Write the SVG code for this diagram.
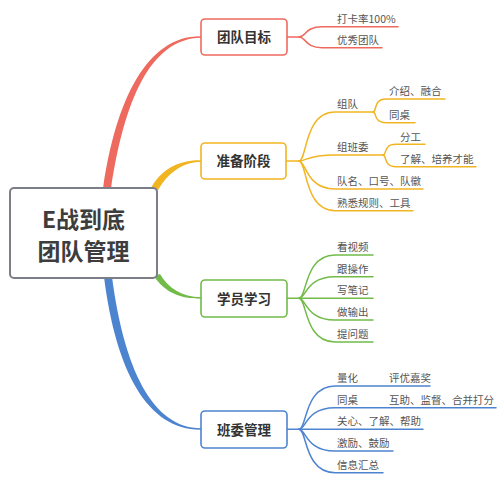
<svg xmlns="http://www.w3.org/2000/svg" width="500" height="486" viewBox="0 0 500 486">
<style>
.t{font-family:"Noto Sans CJK SC","Noto Sans",sans-serif;}
.leaf{font-size:10.5px;fill:#555;}
.node{font-size:13.5px;font-weight:bold;fill:#333;text-anchor:middle;}
.root{font-size:23px;font-weight:bold;fill:#3d3d3d;text-anchor:middle;}
.ln{fill:none;stroke-width:1.5;stroke-linecap:round;}
.r{stroke:#ee6a5e;} .y{stroke:#f2b522;} .g{stroke:#72bb49;} .b{stroke:#4d84d0;}
.box{fill:#fff;stroke-width:1.6;}
</style>
<rect width="500" height="486" fill="#fff"/>
<g id="connectors">
<!-- main tapered branches -->
<path d="M103,189 C116,98 148,35.4 201,36.2 L201,37.8 C150,38.6 124,102 111,189 Z" fill="#ee6a5e"/>
<path d="M150,190 C160,170 178,159.8 201,160.3 L201,161.7 C181,162 166,175 157,192 Z" fill="#f2b522"/>
<path d="M154,276 C164,292 180,298.7 201,298.7 L201,297.3 C182,297 168,288 160,274 Z" fill="#72bb49"/>
<path d="M104,277 C116,372 148,430.2 201,429.7 L201,428.3 C152,428 124,368 112,277 Z" fill="#4d84d0"/>
<!-- red -->
<path class="ln r" d="M287,37 L299,37 C306,37 305,26.7 322,26.7 L398,26.7"/>
<path class="ln r" d="M299,37 C306,37 305,47.7 322,47.7 L382,47.7"/>
<!-- yellow -->
<path class="ln y" d="M286,161 L299,161"/>
<path class="ln y" d="M299,161 C307,161 304,112 335,112 L373,112"/>
<path class="ln y" d="M299,161 C306,161 308,155 335,155 L383,155"/>
<path class="ln y" d="M299,161 C306,161 306,189 335,189 L423,189"/>
<path class="ln y" d="M299,161 C307,161 304,210.7 335,210.7 L413,210.7"/>
<path class="ln y" d="M373,112 C377,112 373,99 386,99 L445,99"/>
<path class="ln y" d="M373,112 C377,112 373,122.7 386,122.7 L415,122.7"/>
<path class="ln y" d="M383,155 C387,155 383,144.3 396,144.3 L425,144.3"/>
<path class="ln y" d="M383,155 C387,155 383,166.7 396,166.7 L476,166.7"/>
<!-- green -->
<path class="ln g" d="M287,298.3 L373,298.3"/>
<path class="ln g" d="M299,298.3 C307,298.3 304,255 335,255 L373,255"/>
<path class="ln g" d="M299,298.3 C306,298.3 306,276.7 335,276.7 L373,276.7"/>
<path class="ln g" d="M299,298.3 C306,298.3 306,320 335,320 L373,320"/>
<path class="ln g" d="M299,298.3 C307,298.3 304,342 335,342 L373,342"/>
<!-- blue -->
<path class="ln b" d="M287,429.3 L423,429.3"/>
<path class="ln b" d="M299,429.3 C307,429.3 304,386 335,386 L430,386"/>
<path class="ln b" d="M299,429.3 C306,429.3 306,407.7 335,407.7 L496,407.7"/>
<path class="ln b" d="M299,429.3 C306,429.3 306,451 335,451 L393,451"/>
<path class="ln b" d="M299,429.3 C307,429.3 304,472.7 335,472.7 L383,472.7"/>
</g>
<g id="root">
<rect x="10" y="188" width="147" height="90" rx="4" fill="#fff" stroke="#7b7e86" stroke-width="2"/>
<text class="t root" x="83.5" y="228">E战到底</text>
<text class="t root" x="83.5" y="260">团队管理</text>
</g>
<g id="n1">
<rect class="box" x="201" y="19" width="86" height="36" rx="4" stroke="#ee6a5e"/>
<text class="t node" x="244" y="42">团队目标</text>
</g>
<g id="n2">
<rect class="box" x="201" y="143" width="85" height="36" rx="4" stroke="#f2b522"/>
<text class="t node" x="243.5" y="166">准备阶段</text>
</g>
<g id="n3">
<rect class="box" x="201" y="280" width="86" height="37" rx="4" stroke="#72bb49"/>
<text class="t node" x="244" y="303.5">学员学习</text>
</g>
<g id="n4">
<rect class="box" x="201" y="411" width="86" height="37" rx="4" stroke="#4d84d0"/>
<text class="t node" x="244" y="434.5">班委管理</text>
</g>
<g id="leaves">
<text class="t leaf" x="337" y="22.5">打卡率100%</text>
<text class="t leaf" x="337" y="43.5">优秀团队</text>
<text class="t leaf" x="337" y="107.5">组队</text>
<text class="t leaf" x="389" y="95">介绍、融合</text>
<text class="t leaf" x="389" y="118.5">同桌</text>
<text class="t leaf" x="337" y="151">组班委</text>
<text class="t leaf" x="400" y="140.5">分工</text>
<text class="t leaf" x="400" y="162.5">了解、培养才能</text>
<text class="t leaf" x="337" y="185">队名、口号、队徽</text>
<text class="t leaf" x="337" y="206.5">熟悉规则、工具</text>
<text class="t leaf" x="337" y="251">看视频</text>
<text class="t leaf" x="337" y="272.5">跟操作</text>
<text class="t leaf" x="337" y="294">写笔记</text>
<text class="t leaf" x="337" y="316">做输出</text>
<text class="t leaf" x="337" y="338">提问题</text>
<text class="t leaf" x="337" y="382">量化</text>
<text class="t leaf" x="389" y="382">评优嘉奖</text>
<text class="t leaf" x="337" y="403.5">同桌</text>
<text class="t leaf" x="389" y="403.5">互助、监督、合并打分</text>
<text class="t leaf" x="337" y="425">关心、了解、帮助</text>
<text class="t leaf" x="337" y="447">激励、鼓励</text>
<text class="t leaf" x="337" y="468.5">信息汇总</text>
</g>
</svg>
